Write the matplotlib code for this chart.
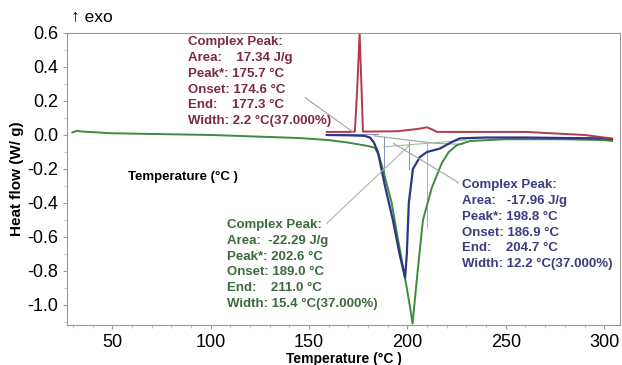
import matplotlib.pyplot as plt

# DSC curves (temperature in degC, heat flow in W/g)
green_t = [29.7, 32, 35, 50, 100, 145, 160, 170, 180, 183.5, 185.5, 187.5, 192, 195,
           198.7, 201.3, 202.6, 205.3, 207.9, 212.4, 217.5, 221, 225.1, 232, 250, 280, 300, 304]
green_y = [0.015, 0.024, 0.02, 0.01, 0.0, -0.018, -0.03, -0.045, -0.065, -0.076, -0.12, -0.2, -0.4, -0.6,
           -0.835, -1.01, -1.11, -0.79, -0.5, -0.31, -0.165, -0.1, -0.06, -0.035, -0.025, -0.025, -0.03, -0.035]

blue_t = [159, 170, 178, 181, 183, 185, 188.6, 192.6, 196, 198.8, 199.7, 200.7, 202.8,
          206.3, 210, 216.5, 222, 226.6, 240, 260, 280, 300, 304]
blue_y = [0.0, -0.002, -0.005, -0.015, -0.045, -0.1, -0.3, -0.5, -0.7, -0.84, -0.7, -0.4, -0.2,
          -0.13, -0.1, -0.08, -0.045, -0.02, -0.015, -0.015, -0.018, -0.02, -0.025]

red_t = [159, 170, 173.3, 174.6, 175.7, 176.6, 177.4, 180, 195, 205, 210, 213, 215, 240, 260, 290, 300, 304]
red_y = [0.018, 0.018, 0.02, 0.3, 0.6, 0.3, 0.02, 0.02, 0.022, 0.035, 0.045, 0.03, 0.018, 0.018, 0.018, 0.0, -0.015, -0.02]

red_text = ["Complex Peak:", "Area:    17.34 J/g", "Peak*: 175.7 \u00b0C",
            "Onset: 174.6 \u00b0C", "End:    177.3 \u00b0C", "Width: 2.2 \u00b0C(37.000%)"]
blue_text = ["Complex Peak:", "Area:   -17.96 J/g", "Peak*: 198.8 \u00b0C",
             "Onset: 186.9 \u00b0C", "End:    204.7 \u00b0C", "Width: 12.2 \u00b0C(37.000%)"]
green_text = ["Complex Peak:", "Area:  -22.29 J/g", "Peak*: 202.6 \u00b0C",
              "Onset: 189.0 \u00b0C", "End:    211.0 \u00b0C", "Width: 15.4 \u00b0C(37.000%)"]

plt.rcParams['font.family'] = ['Liberation Sans', 'DejaVu Sans']

fig = plt.figure(figsize=(6.22, 3.65), dpi=100)
ax = fig.add_axes([0.1077, 0.1096, 0.889, 0.80])

# thin construction lines (baselines, onset/end marks)
ax.plot([183, 200, 215, 228], [-0.005, -0.03, -0.05, -0.055], color="#9aa0a8", lw=0.8)
ax.plot([188, 230], [-0.07, -0.03], color="#9cc09c", lw=0.8)
ax.plot([188, 188], [-0.01, -0.3], color="#8890b8", lw=0.7)
ax.plot([201, 201], [-0.04, -0.2], color="#8890b8", lw=0.7)
ax.plot([210, 210], [-0.04, -0.55], color="#9cc09c", lw=0.7)
ax.plot([165, 185], [0.005, 0.005], color="#8890b8", lw=0.8)

ax.plot(green_t, green_y, color="#3d8c3d", lw=1.4)
ax.plot(blue_t, blue_y, color="#2c3586", lw=1.6)
ax.plot(red_t, red_y, color="#b3384a", lw=1.4)

# leader lines from the labels
ax.plot([148, 172], [0.22, 0.02], color="#a8a0a0", lw=0.8)
ax.plot([159, 201], [-0.52, -0.06], color="#a8b8a8", lw=0.8)
ax.plot([226, 193], [-0.28, -0.05], color="#a0a0b0", lw=0.8)

def block(x, y, lines, color):
    for i, s in enumerate(lines):
        ax.text(x, y - i * 0.093, s, color=color, fontsize=9.5, fontweight="bold", va="center")

block(88.5, 0.546, red_text, "#7d2a3f")
block(227.5, -0.295, blue_text, "#3c3c80")
block(108.5, -0.53, green_text, "#3b6b3b")

ax.text(58, -0.25, "Temperature (\u00b0C )", fontsize=9.5, fontweight="bold", ha="left", va="center")
ax.text(29, 0.69, "\u2191 exo", fontsize=12.5, ha="left", va="center", clip_on=False)

ax.set_xlim(27, 308)
ax.set_ylim(-1.118, 0.6)
ax.set_xticks([50, 100, 150, 200, 250, 300])
ax.set_yticks([0.6, 0.4, 0.2, 0.0, -0.2, -0.4, -0.6, -0.8, -1.0])
ax.set_yticklabels(["0.6", "0.4", "0.2", "0.0", "-0.2", "-0.4", "-0.6", "-0.8", "-1.0"])
ax.set_xticks(range(30, 310, 10), minor=True)
ax.set_yticks([0.5, 0.3, 0.1, -0.1, -0.3, -0.5, -0.7, -0.9, -1.1], minor=True)
ax.tick_params(labelsize=13, color="#999999", length=3, width=0.8)
ax.tick_params(which="minor", color="#bbbbbb", length=2)
for sp in ax.spines.values():
    sp.set_color("#999999")

ax.set_xlabel("Temperature (\u00b0C )", fontsize=10, fontweight="bold", labelpad=1)
ax.set_ylabel("Heat flow (W/ g)", fontsize=11, fontweight="bold", labelpad=2)

fig.savefig("out.png", dpi=100)
